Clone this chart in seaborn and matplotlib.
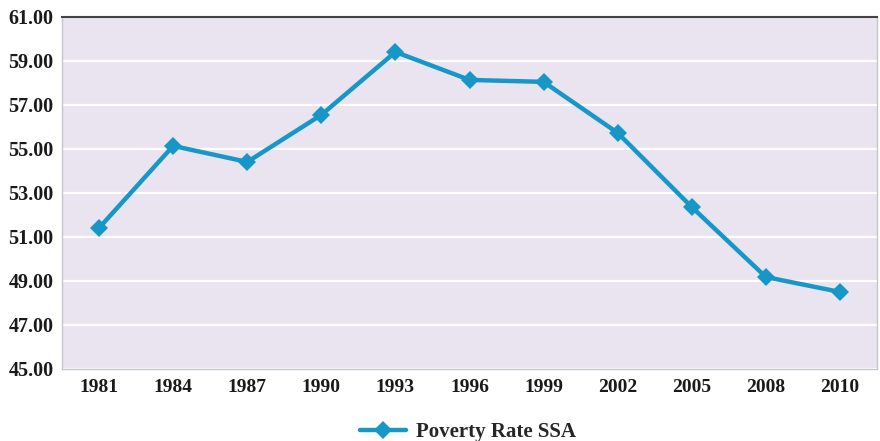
import matplotlib
matplotlib.use("Agg")
import matplotlib.pyplot as plt
import seaborn as sns
import pandas as pd

years = ["1981", "1984", "1987", "1990", "1993", "1996", "1999", "2002", "2005", "2008", "2010"]
poverty_rate = [51.41, 55.14, 54.41, 56.55, 59.41, 58.14, 58.05, 55.73, 52.36, 49.18, 48.50]
series_name = "Poverty Rate SSA"
y_ticks = [45, 47, 49, 51, 53, 55, 57, 59, 61]

df = pd.DataFrame({"year": years, "rate": poverty_rate, "series": series_name})
df["pos"] = range(len(years))

sns.set_theme(style="white")
plt.rcParams["font.family"] = ["Liberation Serif", "DejaVu Serif"]

fig = plt.figure(figsize=(8.8, 4.41), dpi=100)
ax = fig.add_axes([0.0705, 0.1633, 0.9261, 0.7982])
ax.set_facecolor("#E9E4F0")

line_color = "#1797C8"
sns.lineplot(data=df, x="pos", y="rate", hue="series", palette=[line_color],
             marker="D", markersize=9.5, markeredgewidth=0, linewidth=3.2,
             sort=False, ax=ax, zorder=3)

ax.set_xlim(-0.5, len(years) - 0.5)
ax.set_ylim(45, 61)
ax.set_xticks(range(len(years)))
ax.set_xticklabels(years)
ax.set_yticks(y_ticks)
ax.set_yticklabels([f"{v:.2f}" for v in y_ticks])
ax.yaxis.grid(True, color="white", linewidth=1.6, zorder=0)
ax.xaxis.grid(False)
ax.set_axisbelow(True)
ax.set_xlabel("")
ax.set_ylabel("")

ax.tick_params(axis="both", length=0, colors="#1a1a1a")
ax.tick_params(axis="x", pad=7, labelsize=14)
ax.tick_params(axis="y", pad=6, labelsize=14.5)
for lbl in ax.get_xticklabels() + ax.get_yticklabels():
    lbl.set_fontweight("bold")

ax.spines["top"].set_color("#444444")
ax.spines["top"].set_linewidth(1.5)
for side in ["left", "bottom", "right"]:
    ax.spines[side].set_color("#c8c4cc")
    ax.spines[side].set_linewidth(1.0)

leg = ax.legend(loc="center", bbox_to_anchor=(0.498, -0.18), frameon=False,
                prop={"weight": "bold", "size": 15}, handlelength=2.2,
                handletextpad=0.5)
for h in leg.legend_handles:
    h.set_markersize(9)

fig.savefig("out.png", dpi=100)
